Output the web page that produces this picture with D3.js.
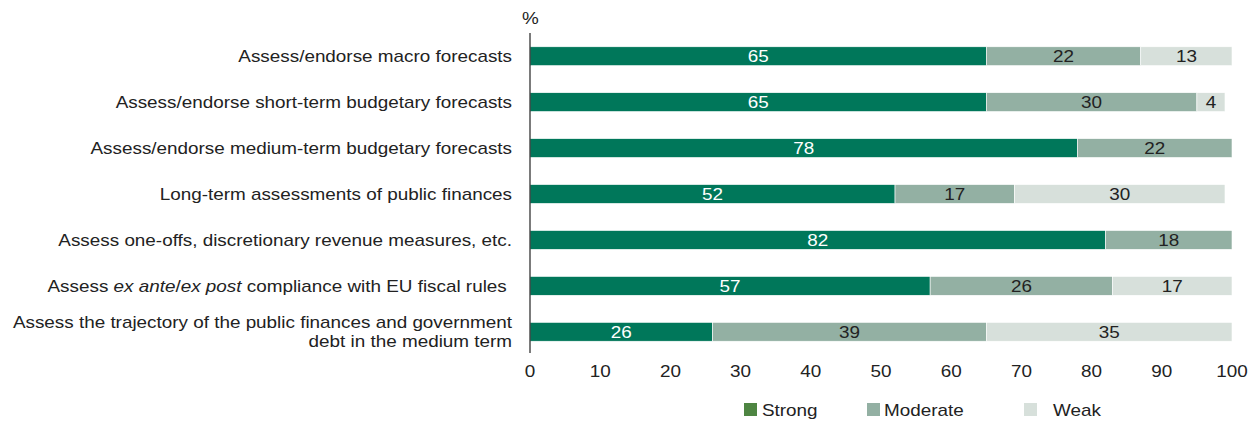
<!DOCTYPE html>
<html>
<head>
<meta charset="utf-8">
<script src="https://cdn.jsdelivr.net/npm/d3@7"></script>
<style>
  body { margin: 0; background: #fff; }
  text { font-family: "Liberation Sans", Arial, sans-serif; }
</style>
</head>
<body>
<div id="chart"></div>
<script>
// categories (label lines, italic parts marked with segments)
const categories = [
    [[["Assess/endorse macro forecasts", false]]],
    [[["Assess/endorse short-term budgetary forecasts", false]]],
    [[["Assess/endorse medium-term budgetary forecasts", false]]],
    [[["Long-term assessments of public finances", false]]],
    [[["Assess one-offs, discretionary revenue measures, etc.", false]]],
    [[["Assess ", false], ["ex ante", true], ["/", false], ["ex post", true], [" compliance with EU fiscal rules ", false]]],
    [[["Assess the trajectory of the public finances and government", false]], [["debt in the medium term", false]]]
];
const strong   = [65, 65, 78, 52, 82, 57, 26];
const moderate = [22, 30, 22, 17, 18, 26, 39];
const weak     = [13,  4,  0, 30,  0, 17, 35];
const seriesNames = ["Strong", "Moderate", "Weak"];
const xTicks = [0, 10, 20, 30, 40, 50, 60, 70, 80, 90, 100];

const width = 1248, height = 421;
const colors = ["#00775a", "#93b0a3", "#d7e0db"];
const legendColors = ["#4e8542", "#93b0a3", "#d7e0db"];
const stretch = 1.18; // the source font is wider than Liberation Sans

const svg = d3.select('#chart').append('svg')
    .attr('width', width)
    .attr('height', height);

// put a text at (px, py) and widen it horizontally
function place(t, px, py) {
    return t.attr('transform', `translate(${px},${py}) scale(${stretch},1)`);
}

const x = d3.scaleLinear().domain([0, 100]).range([530, 1232]);
const y = d3.scaleBand().domain(d3.range(categories.length)).range([33, 355]).paddingInner(0.59).paddingOuter(0.3);

// stacked data
const rows = strong.map((s, i) => ({ i, Strong: s, Moderate: moderate[i], Weak: weak[i] }));
const stack = d3.stack().keys(seriesNames)(rows);

const g = svg.append('g');
stack.forEach((layer, k) => {
    g.selectAll('.bar' + k)
        .data(layer)
        .join('rect')
        .attr('x', d => x(d[0]))
        .attr('y', d => y(d.data.i))
        .attr('width', d => x(d[1]) - x(d[0]))
        .attr('height', y.bandwidth())
        .attr('fill', colors[k])
        .attr('stroke', '#fff')
        .attr('stroke-width', 0.6);

    g.selectAll('.lbl' + k)
        .data(layer.filter(d => d[1] - d[0] > 0))
        .join('text')
        .attr('transform', d => `translate(${(x(d[0]) + x(d[1])) / 2},${y(d.data.i) + y.bandwidth() / 2 + 6}) scale(${stretch},1)`)
        .attr('text-anchor', 'middle')
        .attr('font-size', 16)
        .attr('fill', k === 0 ? '#fff' : '#222')
        .text(d => d[1] - d[0]);
});

// y axis line
svg.append('line')
    .attr('x1', x(0)).attr('x2', x(0))
    .attr('y1', 33).attr('y2', 353)
    .attr('stroke', '#222').attr('stroke-width', 1.2);

place(svg.append('text'), x(0) - 8, 24)
    .attr('font-size', 16).attr('fill', '#222')
    .text('%');

// category labels
categories.forEach((lines, i) => {
    const cy = y(i) + y.bandwidth() / 2;
    const n = lines.length;
    lines.forEach((segs, j) => {
        const t = place(svg.append('text'), 512, cy + 6 + (j - (n - 1) / 2) * 19)
            .attr('text-anchor', 'end')
            .attr('font-size', 16)
            .attr('fill', '#222');
        segs.forEach(s => {
            t.append('tspan')
                .attr('font-style', s[1] ? 'italic' : 'normal')
                .attr('xml:space', 'preserve')
                .text(s[0]);
        });
    });
});

// x tick labels
svg.append('g').selectAll('text')
    .data(xTicks)
    .join('text')
    .attr('transform', d => `translate(${x(d)},377) scale(${stretch},1)`)
    .attr('text-anchor', 'middle')
    .attr('font-size', 16)
    .attr('fill', '#222')
    .text(d => d);

// legend
const legendX = [744, 867, 1024];
const legendTextX = [762, 884, 1053];
seriesNames.forEach((name, k) => {
    svg.append('rect')
        .attr('x', legendX[k]).attr('y', 403)
        .attr('width', 13).attr('height', 13)
        .attr('fill', legendColors[k]);
    place(svg.append('text'), legendTextX[k], 416)
        .attr('font-size', 16).attr('fill', '#222')
        .text(name);
});
</script>
</body>
</html>
